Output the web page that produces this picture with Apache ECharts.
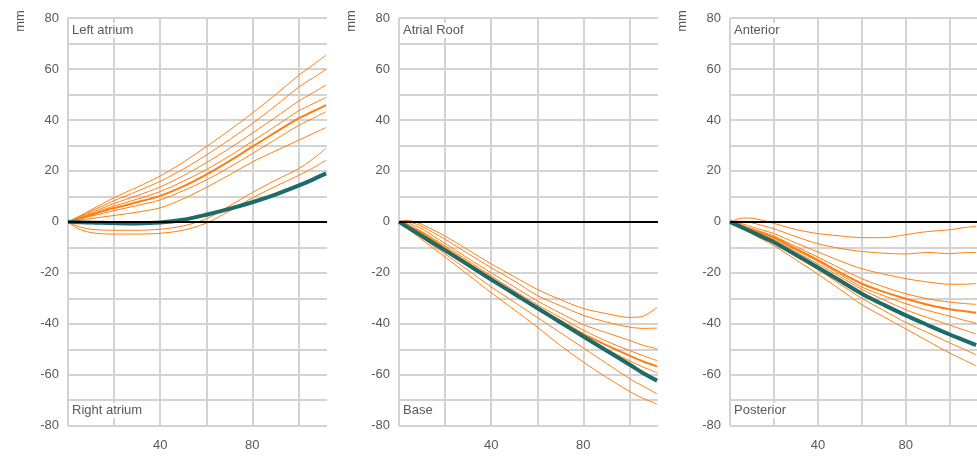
<!DOCTYPE html>
<html>
<head>
<meta charset="utf-8">
<script src="https://cdn.jsdelivr.net/npm/echarts@6/dist/echarts.min.js"></script>
<style>
  html, body { margin: 0; padding: 0; background: #fff; }
  #chart { width: 977px; height: 456px; }
</style>
</head>
<body>
<div id="chart"></div>
<script>
// x positions shared by all curves
const xs = [0, 3, 6, 10, 15, 20, 30, 40, 50, 60, 70, 80, 90, 100, 106, 112]

// Left atrium / Right atrium
const atriumThin = [
  [0, 1.4, 2.8, 4.7, 7.1, 9.5, 13.6, 18, 23.4, 29.5, 35.9, 42.7, 49.9, 57.4, 61.4, 65.4],
  [0, 1.2, 2.5, 4.2, 6.2, 8.3, 12, 15.9, 20.7, 26.2, 32.2, 38.6, 45.5, 52.8, 56.3, 59.8],
  [0, 1.1, 2.2, 3.6, 5.4, 7.2, 10.3, 13.7, 18.1, 23.2, 28.8, 34.8, 41, 47.3, 50.5, 53.7],
  [0, 0.9, 1.9, 3.1, 4.7, 6.2, 8.9, 11.9, 15.9, 20.5, 25.8, 31.6, 37.5, 43.5, 46.2, 48.8],
  [0, 0.7, 1.3, 2.2, 3.3, 4.4, 6.4, 8.6, 12.2, 16.4, 21.4, 26.8, 32.3, 37.8, 40.5, 43.2],
  [0, 0.4, 0.8, 1.3, 1.9, 2.5, 3.8, 5.5, 9, 13.5, 18.4, 23.5, 27.8, 32, 34.5, 37],
  [0, -1.3, -2.2, -2.9, -3.2, -3.3, -3.3, -2.9, -1.6, 1.2, 6.2, 11.5, 16.3, 20.8, 24.5, 28.8],
  [0, -2, -3.3, -4.2, -4.7, -4.8, -4.8, -4.5, -3.3, -0.5, 4.2, 9.4, 13.9, 18.2, 21, 24.2]
]
const atriumThick = [0, 0.8, 1.6, 2.7, 4.1, 5.4, 7.7, 10.2, 13.9, 18.5, 23.8, 29.5, 35.1, 40.6, 43.2, 45.8]
const atriumMean = [0, -0.1, -0.2, -0.3, -0.4, -0.5, -0.6, -0.3, 0.8, 2.8, 5.1, 7.7, 10.7, 14.2, 16.5, 19]

// Atrial Roof / Base
const roofThin = [
  [0, 0.6, 0.2, -1, -3.2, -5.6, -11, -16.5, -21.5, -26.5, -30.5, -34, -36, -37.5, -37, -33.5],
  [0, 0.4, -0.4, -1.8, -4.3, -6.8, -12.5, -18, -23.2, -28.9, -32.9, -36.7, -39.3, -41.3, -41.8, -41.7],
  [0, 0, -1.2, -2.7, -5.6, -8.4, -14.3, -20, -25.5, -31, -35.8, -40.3, -43.5, -46.5, -48.5, -49.8],
  [0, -0.5, -2, -3.8, -6.6, -9.4, -15.3, -21.2, -27, -32.5, -37.5, -42.5, -46.8, -50.5, -52.5, -54.5],
  [0, -1.2, -2.9, -4.9, -7.9, -10.9, -17, -23, -28.9, -34.5, -39.9, -45.3, -50, -54.5, -57, -59.2],
  [0, -1.9, -3.8, -6.3, -9.5, -12.6, -19, -25.5, -31.5, -37.5, -43.5, -49.5, -55.5, -61.5, -64.5, -67.5],
  [0, -2.1, -4.2, -7, -10.5, -13.8, -20.8, -27.8, -34.5, -41.3, -48.5, -55, -61, -66.5, -69.3, -71.5]
]
const roofThick = [0, -0.9, -2.5, -4.4, -7.4, -10.3, -16.2, -22.1, -28, -33.6, -38.8, -44, -48.4, -52.5, -54.8, -56.7]
const roofMean = [0, -1.7, -3.4, -5.6, -8.4, -11.2, -16.9, -22.6, -28.2, -33.8, -39.4, -45, -50.5, -56, -59.4, -62.3]

// Anterior / Posterior
const anteriorThin = [
  [0, 1, 1.5, 1.4, 0.6, -0.6, -3, -4.6, -5.5, -6.2, -6.2, -5, -3.8, -3.1, -2.3, -1.8],
  [0, 0.3, 0.2, -0.4, -1.5, -2.7, -5.8, -8.6, -10.4, -11.6, -12.3, -12.6, -12, -12.5, -12.1, -12],
  [0, -0.3, -0.9, -2, -3.3, -4.6, -8.3, -11.8, -15.3, -18.4, -20.5, -22.3, -23.6, -24.5, -24.5, -24.2],
  [0, -0.7, -1.6, -2.7, -4.1, -5.6, -9.7, -13.8, -18.2, -22.3, -25.5, -28.2, -30.2, -31.5, -32, -32.4],
  [0, -0.8, -1.8, -3, -4.6, -6.4, -11, -15.5, -20.6, -25.6, -29, -32.1, -34.8, -37, -38.5, -39.8],
  [0, -0.9, -2, -3.5, -5.2, -6.9, -11.7, -16.5, -21.5, -26.5, -30.6, -34.5, -37.6, -40.5, -42.3, -44],
  [0, -1.2, -2.5, -4.3, -6.4, -8.5, -13.7, -18.8, -24.4, -30, -34.8, -39.5, -43.5, -47.5, -49.8, -52.2],
  [0, -1.4, -2.8, -4.7, -7, -9.3, -14.9, -20.5, -26.5, -32.5, -37.3, -42, -46.8, -51.5, -54, -56.5]
]
const anteriorThick = [0, -0.8, -1.7, -3, -4.6, -6.1, -10.6, -15, -19.8, -24.3, -27.5, -30.2, -32.5, -34.3, -35, -35.7]
const anteriorMean = [0, -1.2, -2.4, -4, -6, -8, -12.9, -17.9, -23, -28.2, -32.6, -36.7, -40.5, -44.2, -46.3, -48.4]

const xTicks = [40, 80]
const yTicks = [80, 60, 40, 20, 0, -20, -40, -60, -80]

const panels = [
  { top: 'Left atrium', bottom: 'Right atrium', thin: atriumThin, thick: atriumThick, mean: atriumMean },
  { top: 'Atrial Roof', bottom: 'Base', thin: roofThin, thick: roofThick, mean: roofMean },
  { top: 'Anterior', bottom: 'Posterior', thin: anteriorThin, thick: anteriorThick, mean: anteriorMean }
]

const orange = '#ff7f0e'
const teal = '#1d6b68'
const gridColor = '#d3d3d3'
const textColor = '#595959'
const fontFamily = '"Liberation Sans", Arial, sans-serif'

const panelLeft = [68, 399, 730]
const plotTop = 18
const plotWidth = 259
const plotHeight = 407.7

const pts = arr => xs.map((x, i) => [x, arr[i]])

const grids = []
const xAxes = []
const yAxes = []
const titles = []
const graphics = []
const series = []

panels.forEach((p, i) => {
  const left = panelLeft[i]
  grids.push({ left: left, top: plotTop, width: plotWidth, height: plotHeight })
  xAxes.push({
    type: 'value',
    gridIndex: i,
    min: 0,
    max: 112.4,
    interval: 20,
    axisLine: { show: false },
    axisTick: { show: false },
    axisLabel: {
      color: textColor,
      fontSize: 13,
      fontFamily: fontFamily,
      margin: 13,
      showMaxLabel: false,
      formatter: v => (xTicks.indexOf(v) > -1 ? String(v) : '')
    },
    splitLine: { show: true, showMaxLine: false, lineStyle: { color: gridColor, width: 2 } }
  })
  yAxes.push({
    type: 'value',
    gridIndex: i,
    min: -80,
    max: 80,
    interval: 10,
    axisLine: { show: false },
    axisTick: { show: false },
    axisLabel: {
      color: textColor,
      fontSize: 13,
      fontFamily: fontFamily,
      margin: 9,
      formatter: v => (yTicks.indexOf(v) > -1 ? String(v) : '')
    },
    splitLine: { show: true, lineStyle: { color: gridColor, width: 2 } }
  })

  const tStyle = { color: textColor, fontSize: 13, fontWeight: 'normal', fontFamily: fontFamily }
  titles.push({ text: p.top, left: left + 2, top: 23, padding: [1, 2, 1, 2], backgroundColor: '#fff', textStyle: tStyle })
  titles.push({ text: p.bottom, left: left + 2, top: 403, padding: [1, 2, 1, 2], backgroundColor: '#fff', textStyle: tStyle })

  // 纵轴单位
  graphics.push({
    type: 'text',
    x: left - 48,
    y: 21,
    rotation: Math.PI / 2,
    style: { text: 'mm', fill: textColor, fontSize: 13, fontFamily: fontFamily, align: 'center', verticalAlign: 'middle' }
  })

  const base = { type: 'line', xAxisIndex: i, yAxisIndex: i, showSymbol: false, silent: true, smooth: 0.3 }
  p.thin.forEach((arr, k) => {
    const s = Object.assign({}, base, { data: pts(arr), lineStyle: { color: orange, width: 1 } })
    if (k === 0) {
      // zero line
      s.markLine = {
        symbol: 'none',
        silent: true,
        label: { show: false },
        lineStyle: { color: '#000', width: 2, type: 'solid' },
        data: [{ yAxis: 0 }]
      }
    }
    series.push(s)
  })
  series.push(Object.assign({}, base, { data: pts(p.thick), lineStyle: { color: orange, width: 2 } }))
  series.push(Object.assign({}, base, { data: pts(p.mean), lineStyle: { color: teal, width: 4 } }))
})

const chart = echarts.init(document.getElementById('chart'))
chart.setOption({
  animation: false,
  title: titles,
  grid: grids,
  xAxis: xAxes,
  yAxis: yAxes,
  graphic: graphics,
  series: series
})
</script>
</body>
</html>
